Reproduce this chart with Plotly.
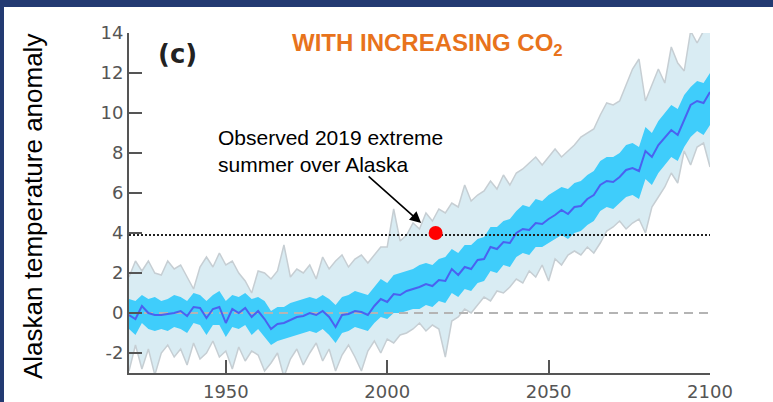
import plotly.graph_objects as go

years = list(range(1920, 2101, 2))

ens_mean = [-0.1, -0.3, 0.35, 0.0, -0.1, -0.1, -0.05, 0.0, 0.1, -0.15,
            0.3, 0.25, -0.25, 0.2, 0.3, -0.5, 0.2, 0.0, 0.25, -0.2,
            0.1, -0.3, -0.8, -0.55, -0.5, -0.35, -0.2, -0.15, 0.0, -0.1,
            0.1, -0.2, -0.7, -0.1, -0.05, 0.1, 0.05, -0.1, 0.35, 0.7,
            0.55, 0.95, 0.9, 1.1, 1.2, 1.3, 1.45, 1.35, 1.65, 1.6,
            2.2, 1.9, 2.3, 2.2, 2.65, 2.7, 3.3, 3.2, 3.55, 3.5,
            4.0, 4.2, 4.15, 4.5, 4.45, 4.7, 4.9, 5.15, 4.95, 5.3,
            5.35, 5.7, 5.9, 6.4, 6.6, 6.55, 6.8, 7.15, 7.25, 7.1,
            8.1, 7.8, 8.4, 8.8, 9.15, 8.9, 9.7, 10.4, 10.6, 10.5, 11.05]

inner_hi = [0.7, 0.6, 0.9, 0.7, 0.8, 0.6, 0.7, 0.9, 0.8, 0.6,
            1.0, 0.9, 0.6, 0.9, 1.1, 0.6, 0.9, 0.8, 1.0, 0.7,
            0.8, 0.6, 0.1, 0.3, 0.3, 0.5, 0.6, 0.7, 0.8, 0.7,
            0.9, 0.7, 0.4, 0.8, 0.9, 1.1, 1.0, 0.9, 1.3, 1.7,
            1.5, 1.9, 2.0, 2.1, 2.2, 2.4, 2.5, 2.4, 2.7, 2.8,
            3.2, 3.0, 3.4, 3.4, 3.7, 3.8, 4.3, 4.3, 4.6, 4.7,
            5.1, 5.4, 5.3, 5.7, 5.6, 5.9, 6.1, 6.3, 6.2, 6.5,
            6.6, 6.9, 7.1, 7.6, 7.8, 7.8, 8.0, 8.4, 8.5, 8.3,
            9.3, 9.0, 9.6, 10.0, 10.4, 10.2, 10.9, 11.3, 11.6, 11.5, 12.0]

inner_lo = [-0.8, -1.1, -0.5, -0.8, -0.9, -0.8, -0.9, -0.7, -0.8, -1.0,
            -0.5, -0.6, -1.1, -0.6, -0.6, -1.2, -0.7, -0.8, -0.6, -1.1,
            -0.8, -1.2, -1.6, -1.4, -1.3, -1.2, -1.1, -1.0, -0.9, -1.0,
            -0.8, -1.1, -1.5, -1.0, -0.9, -0.7, -0.8, -0.9, -0.5, -0.2,
            -0.3, 0.0, 0.0, 0.1, 0.2, 0.2, 0.4, 0.3, 0.6, 0.5,
            1.0, 0.8, 1.2, 1.1, 1.5, 1.6, 2.1, 2.0, 2.4, 2.3,
            2.8, 3.0, 2.9, 3.3, 3.3, 3.5, 3.7, 3.9, 3.7, 4.0,
            4.1, 4.4, 4.6, 5.1, 5.3, 5.2, 5.5, 5.8, 5.9, 5.7,
            6.7, 6.4, 7.0, 7.4, 7.8, 7.6, 8.3, 8.8, 9.1, 8.9, 9.4]

outer_hi = [1.8, 2.6, 2.1, 2.6, 2.0, 1.9, 2.6, 2.2, 2.4, 1.8,
            1.2, 2.3, 2.8, 2.3, 3.0, 2.4, 2.6, 2.0, 1.6, 1.0,
            2.1, 2.0, 1.7, 2.1, 3.4, 1.8, 2.2, 2.0, 2.4, 1.7,
            2.8, 2.2, 2.6, 2.9, 2.3, 2.7, 2.9, 2.5, 2.9, 3.3,
            3.3, 5.2, 3.6, 3.9, 4.5, 4.2, 5.0, 4.6, 5.2, 5.0,
            5.5, 5.3, 6.4, 5.6, 5.9, 6.1, 6.6, 6.2, 6.9, 6.4,
            7.0, 7.2, 7.5, 7.8, 7.4, 7.8, 8.2, 7.8, 8.1, 8.4,
            8.8, 9.0, 9.2, 9.9, 10.5, 10.4, 10.6, 11.4, 12.2, 12.7,
            10.6, 11.4, 12.2, 11.5, 13.3, 12.5, 12.1, 14.1, 13.5, 14.1, 14.1]

outer_lo = [-2.9, -1.6, -2.8, -1.8, -3.1, -2.0, -1.6, -2.2, -1.8, -2.6,
            -1.5, -2.3, -2.0, -1.4, -2.2, -1.9, -2.8, -1.7, -2.4, -1.9,
            -2.1, -2.9, -2.5, -2.0, -3.2, -2.3, -1.8, -2.6, -2.0, -1.5,
            -2.4, -1.8, -2.9, -2.1, -1.6, -2.2, -2.9, -1.9, -1.4, -2.0,
            -1.3, -1.5, -1.1, -1.0, -0.8, -0.5, -0.9, -0.6, -0.8, -2.2,
            -0.4, -0.2, 0.2, 0.0, 0.4, 0.8, 0.6, 1.1, 1.0, 1.3,
            1.7, 1.5, 2.1, 1.8, 2.4, 1.6, 2.7, 2.4, 2.9, 3.1,
            2.9, 3.3, 3.0, 3.5, 4.1, 4.3, 4.6, 4.2, 4.5, 4.7,
            4.0, 5.3, 5.8, 6.3, 7.0, 6.5, 8.1, 7.4, 8.3, 8.5, 7.3]

threshold = 3.9
obs_year = [2015]
obs_value = [4.0]

x_ticks = [1950, 2000, 2050, 2100]
y_ticks = [-2, 0, 2, 4, 6, 8, 10, 12, 14]
y_ticktext = ["-2", "0", "2", "4", "6", "8", "10", "12", "14"]

fig = go.Figure()
fig.add_trace(go.Scatter(x=years, y=outer_lo, mode="lines",
                         line=dict(color="#c6ced3", width=1.5), hoverinfo="skip"))
fig.add_trace(go.Scatter(x=years, y=outer_hi, mode="lines", fill="tonexty",
                         fillcolor="#d9ecf3",
                         line=dict(color="#c6ced3", width=1.5), hoverinfo="skip"))
fig.add_trace(go.Scatter(x=years, y=inner_lo, mode="lines",
                         line=dict(color="#3fcdfb", width=0), hoverinfo="skip"))
fig.add_trace(go.Scatter(x=years, y=inner_hi, mode="lines", fill="tonexty",
                         fillcolor="#3fcdfb",
                         line=dict(color="#3fcdfb", width=0), hoverinfo="skip"))
fig.add_trace(go.Scatter(x=[years[0], years[-1]], y=[0, 0], mode="lines",
                         line=dict(color="#b4b4b4", width=1.8, dash="9px,6px")))
fig.add_trace(go.Scatter(x=years, y=ens_mean, mode="lines",
                         line=dict(color="#4a62f0", width=2)))
fig.add_trace(go.Scatter(x=[years[0], years[-1]], y=[threshold, threshold], mode="lines",
                         line=dict(color="#222222", width=2, dash="2px,2px")))
fig.add_trace(go.Scatter(x=obs_year, y=obs_value, mode="markers",
                         marker=dict(color="#ff0000", size=14)))

W, H = 773, 402
L, R, T, B = 129, 63, 33, 29
pw, ph = W - L - R, H - T - B

def px(xp):
    return (xp - L) / pw

def py(yp):
    return (H - B - yp) / ph

tick_font = dict(family="DejaVu Sans", size=18, color="#555555")

fig.update_layout(
    width=W, height=H,
    margin=dict(l=L, r=R, t=T, b=B, autoexpand=False),
    paper_bgcolor="white", plot_bgcolor="white",
    showlegend=False,
    xaxis=dict(range=[1920, 2100], tickvals=x_ticks, ticks="inside", ticklen=13,
               tickwidth=2, tickcolor="#555555", showline=True, linecolor="#555555",
               linewidth=2, showgrid=False, zeroline=False, tickfont=tick_font,
               automargin=False, ticklabelstandoff=1),
    yaxis=dict(range=[-3, 14], tickvals=y_ticks, ticktext=y_ticktext, ticks="inside",
               ticklen=13, tickwidth=2, tickcolor="#555555", showline=True,
               linecolor="#555555", linewidth=2, showgrid=False, zeroline=False,
               tickfont=tick_font, automargin=False),
    shapes=[
        dict(type="rect", xref="paper", yref="paper", x0=px(0), x1=px(W), y0=py(7), y1=py(0),
             fillcolor="#233a72", line=dict(width=0), layer="above"),
        dict(type="rect", xref="paper", yref="paper", x0=px(0), x1=px(4), y0=py(H), y1=py(0),
             fillcolor="#233a72", line=dict(width=0), layer="above"),
    ],
    annotations=[
        dict(text="Alaskan temperature anomaly", xref="paper", yref="paper",
             x=px(33), y=py(207), xanchor="center", yanchor="middle", textangle=-90,
             showarrow=False, font=dict(family="Liberation Sans", size=26, color="#000000")),
        dict(text="<b>WITH INCREASING CO<sub>2</sub></b>", xref="paper", yref="paper",
             x=px(427), y=py(44), xanchor="center", yanchor="middle", showarrow=False,
             font=dict(family="Liberation Sans", size=24, color="#e8731c")),
        dict(text="<b>(c)</b>", xref="paper", yref="paper", x=px(177), y=py(54),
             xanchor="center", yanchor="middle", showarrow=False,
             font=dict(family="DejaVu Sans", size=26, color="#222222")),
        dict(text="Observed 2019 extreme<br>summer over Alaska", xref="paper", yref="paper",
             x=px(216), y=py(124), xanchor="left", yanchor="top", align="left",
             showarrow=False, font=dict(family="Liberation Sans", size=21, color="#000000")),
        dict(text="", x=2010.5, y=4.5, xref="x", yref="y", ax=-54, ay=-48,
             showarrow=True, arrowhead=2, arrowsize=1.4, arrowwidth=1.6, arrowcolor="#000000"),
    ],
)

fig.write_html("out.html", config={"displayModeBar": False},
               post_script="document.body.style.margin='0';document.body.style.overflow='hidden';")
